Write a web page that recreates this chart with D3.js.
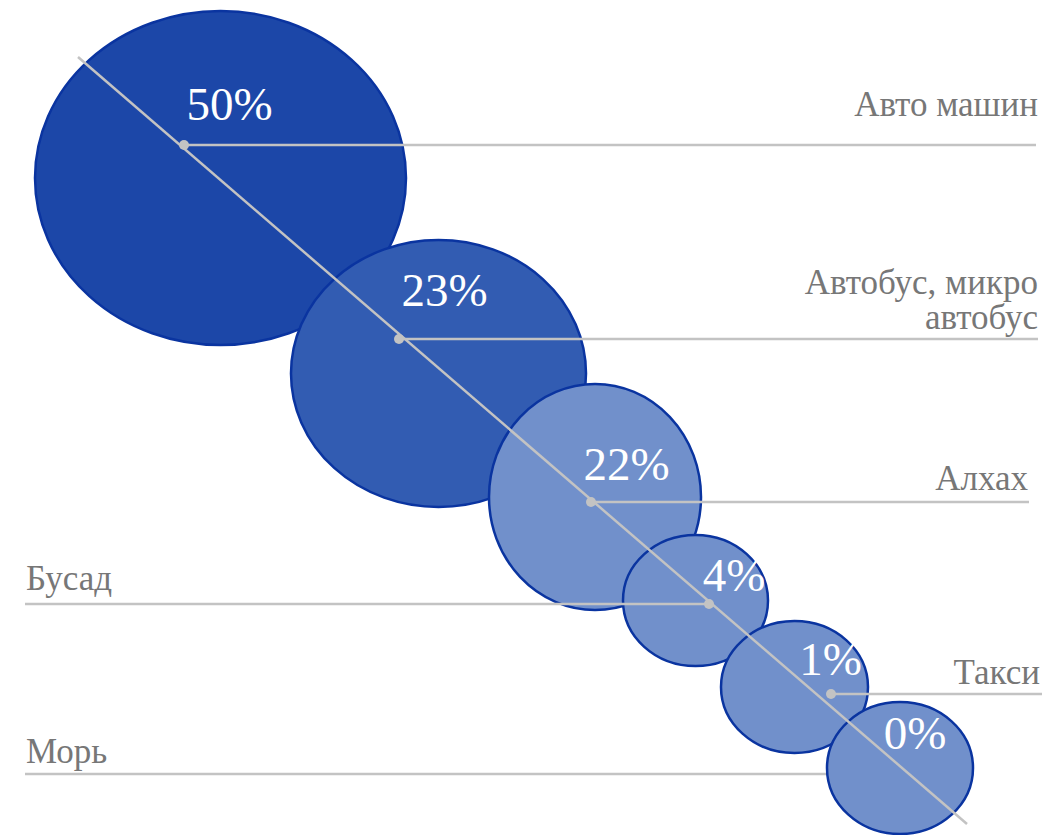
<html><head><meta charset="utf-8"><script src="https://cdn.jsdelivr.net/npm/d3@7"></script>
<style>
  text { font-family: "Liberation Serif" !important; }
</style>
</head>
<body style="margin:0">
<svg id="chart" width="1050" height="835" style="display:block"></svg>
<script>
// data
var categories = ["Авто машин", "Автобус, микро автобус", "Алхах", "Бусад", "Такси", "Морь"];
var shares = [50, 23, 22, 4, 1, 0];
var labelLines = [["Авто машин"], ["Автобус, микро", "автобус"], ["Алхах"], ["Бусад"], ["Такси"], ["Морь"]];

var svg = d3.select("#chart"),
    width = +svg.attr("width"),
    height = +svg.attr("height");

var fontName = '"Liberation Serif"';

// design grid -> page (1:1 here, kept as scales so everything goes through them)
var x = d3.scaleLinear().domain([0, 1050]).range([0, width]);
var y = d3.scaleLinear().domain([0, 835]).range([0, height]);

// layout of the infographic (bubble centres, radii, leader dots, label spots)
var layout = [
  {cx:220.5, cy:178,   rx:185.5, ry:167,   fill:"#1c47a8", px:229.5, py:120, dx:184, dy:145, side:"right", lx:1036, tx:1038, ty:116},
  {cx:438.5, cy:373.5, rx:147.5, ry:133.5, fill:"#325cb2", px:444.5, py:306, dx:399, dy:339, side:"right", lx:1038, tx:1038, ty:294},
  {cx:595,   cy:497,   rx:106,   ry:113,   fill:"#7190cb", px:626.5, py:480, dx:591, dy:502, side:"right", lx:1029, tx:1028, ty:490},
  {cx:695.5, cy:600.5, rx:72.5,  ry:65.5,  fill:"#7190cb", px:734,   py:591, dx:709, dy:604, side:"left",  lx:25,   tx:26,   ty:590},
  {cx:794.5, cy:687,   rx:73.5,  ry:66,    fill:"#7190cb", px:830.5, py:675, dx:831, dy:694, side:"right", lx:1042, tx:1040, ty:684},
  {cx:900,   cy:768,   rx:73,    ry:66,    fill:"#7190cb", px:915,   py:749, dx:905, dy:774, side:"left",  lx:25,   tx:26,   ty:763}
];

var items = categories.map(function (c, i) {
  return Object.assign({ name: c, share: shares[i], lines: labelLines[i], idx: i }, layout[i]);
});

var lineColor = "#c3c3c3";

function drawLeader(sel) {
  sel.append("line")
    .attr("x1", function (d) { return x(d.dx); })
    .attr("x2", function (d) { return x(d.lx); })
    .attr("y1", function (d) { return y(d.dy); })
    .attr("y2", function (d) { return y(d.dy); })
    .attr("stroke", lineColor)
    .attr("stroke-width", 2.5);
}

function drawBubble(sel) {
  sel.append("ellipse")
    .attr("cx", function (d) { return x(d.cx); })
    .attr("cy", function (d) { return y(d.cy); })
    .attr("rx", function (d) { return x(d.rx) - x(0); })
    .attr("ry", function (d) { return y(d.ry) - y(0); })
    .attr("fill", function (d) { return d.fill; })
    .attr("stroke", "#0a34a0")
    .attr("stroke-width", 2.5);
}

var last = items[items.length - 1];

// bubbles, the last leader sits under the last bubble
svg.append("g").selectAll("g").data(items.slice(0, -1)).enter().append("g").call(drawBubble);
svg.append("g").datum(last).call(drawLeader);
svg.append("g").datum(last).call(drawBubble);

// other leaders
svg.append("g").selectAll("g").data(items.slice(0, -1)).enter().append("g").call(drawLeader);

// diagonal
svg.append("line")
  .attr("x1", x(78)).attr("y1", y(57))
  .attr("x2", x(967)).attr("y2", y(824))
  .attr("stroke", lineColor)
  .attr("stroke-width", 2.5);

// leader dots
svg.append("g").selectAll("circle").data(items.slice(0, -1)).enter().append("circle")
  .attr("cx", function (d) { return x(d.dx); })
  .attr("cy", function (d) { return y(d.dy); })
  .attr("r", 5)
  .attr("fill", lineColor);

// percentages
svg.selectAll("text.pct").data(items).enter().append("text")
  .attr("class", "pct")
  .attr("x", function (d) { return x(d.px); })
  .attr("y", function (d) { return y(d.py); })
  .attr("text-anchor", "middle")
  .attr("fill", "#ffffff")
  .attr("font-size", 47)
  .style("font-family", fontName, "important")
  .text(function (d) { return d.share + "%"; });

// category names, one text per line
var nameLines = [];
items.forEach(function (d) {
  d.lines.forEach(function (t, j) { nameLines.push({ item: d, text: t, row: j }); });
});

svg.selectAll("text.name").data(nameLines).enter().append("text")
  .attr("class", "name")
  .attr("x", function (d) { return x(d.item.tx); })
  .attr("y", function (d) { return y(d.item.ty + d.row * 35); })
  .attr("text-anchor", function (d) { return d.item.side === "right" ? "end" : "start"; })
  .attr("fill", "#777777")
  .attr("font-size", 35)
  .style("font-family", fontName, "important")
  .text(function (d) { return d.text; });
</script>
</body></html>
